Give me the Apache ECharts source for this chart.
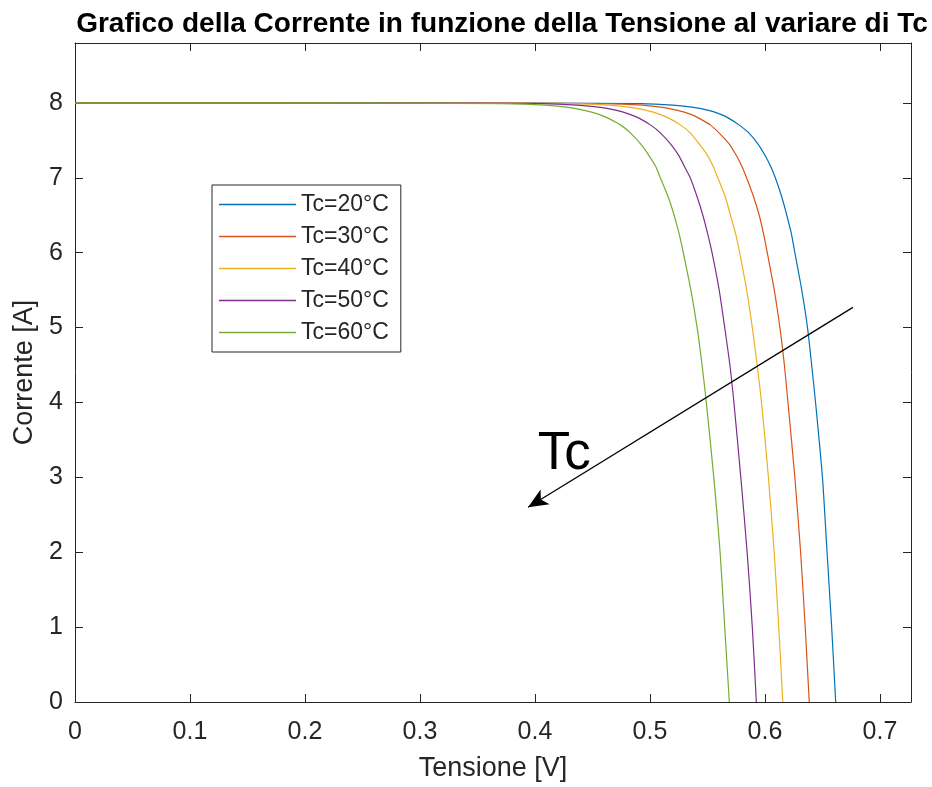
<!DOCTYPE html>
<html>
<head>
<meta charset="utf-8">
<script src="https://cdn.jsdelivr.net/npm/echarts@6/dist/echarts.min.js"></script>
<style>
  html, body { margin: 0; padding: 0; background: #ffffff; }
  #chart { width: 932px; height: 787px; }
</style>
</head>
<body>
<div id="chart"></div>
<script>
// Current levels (A) shared by every curve; the first entry is the short-circuit point at V = 0
const currents = [8, 8, 7.99, 7.97, 7.94, 7.9, 7.85, 7.8, 7.7, 7.6, 7.45, 7.3, 7.15, 7.0, 6.75, 6.5, 6.25, 6.0, 5.5, 5.0, 4.5, 4.0, 3.0, 2.0, 1.0, 0];

// Voltage (V) reached by each curve at the current levels above
const v20 = [0, 0.30, 0.492, 0.520, 0.538, 0.551, 0.561, 0.568, 0.578, 0.586, 0.594, 0.600, 0.605, 0.609, 0.6145, 0.619, 0.623, 0.626, 0.632, 0.637, 0.6406, 0.644, 0.650, 0.654, 0.658, 0.6615];
const v30 = [0, 0.28, 0.464, 0.493, 0.511, 0.524, 0.535, 0.542, 0.553, 0.560, 0.569, 0.575, 0.580, 0.584, 0.590, 0.595, 0.5988, 0.602, 0.6081, 0.613, 0.6169, 0.620, 0.626, 0.631, 0.635, 0.6385];
const v40 = [0, 0.25, 0.435, 0.465, 0.483, 0.497, 0.508, 0.516, 0.527, 0.535, 0.543, 0.550, 0.555, 0.559, 0.5654, 0.570, 0.5745, 0.578, 0.5841, 0.589, 0.5932, 0.597, 0.603, 0.608, 0.612, 0.6155];
const v50 = [0, 0.22, 0.407, 0.437, 0.457, 0.471, 0.482, 0.490, 0.501, 0.509, 0.518, 0.525, 0.530, 0.535, 0.5409, 0.546, 0.5502, 0.554, 0.5602, 0.565, 0.5695, 0.573, 0.579, 0.5845, 0.589, 0.5925];
const v60 = [0, 0.19, 0.377, 0.409, 0.429, 0.443, 0.455, 0.463, 0.475, 0.483, 0.492, 0.499, 0.505, 0.509, 0.5157, 0.521, 0.5254, 0.529, 0.5356, 0.541, 0.5453, 0.549, 0.5555, 0.561, 0.565, 0.569];

const seriesNames = ['Tc=20°C', 'Tc=30°C', 'Tc=40°C', 'Tc=50°C', 'Tc=60°C'];
const seriesVolts = [v20, v30, v40, v50, v60];
const seriesColors = ['#0072BD', '#D95319', '#EDB120', '#7E2F8E', '#77AC30'];

// Axis ticks
const xTicks = [0, 0.1, 0.2, 0.3, 0.4, 0.5, 0.6, 0.7];
const yTicks = [0, 1, 2, 3, 4, 5, 6, 7, 8];

// Temperature-trend arrow (tail, head) and its label, in data units
const arrowTail = [0.6765, 5.27];
const arrowHead = [0.394, 2.60];
const arrowLabelPos = [0.4255, 3.31];

const axisColor = '#262626';
const font = 'Liberation Sans, Arial, Helvetica, sans-serif';

const chart = echarts.init(document.getElementById('chart'), null, { renderer: 'canvas' });

const curveSeries = seriesNames.map((name, k) => ({
  name: name,
  type: 'line',
  xAxisIndex: 0,
  yAxisIndex: 0,
  data: seriesVolts[k].map((v, i) => [v, currents[i]]),
  showSymbol: false,
  symbol: 'none',
  smooth: 0.25,
  lineStyle: { color: seriesColors[k], width: 1.2 },
  itemStyle: { color: seriesColors[k] },
  animation: false,
  z: 3
}));

const boxAxisCommon = {
  axisLine: { show: true, onZero: false, lineStyle: { color: axisColor, width: 1 } },
  axisTick: { show: true, inside: true, length: 8, lineStyle: { color: axisColor, width: 1 } },
  splitLine: { show: false }
};

const option = {
  backgroundColor: '#ffffff',
  animation: false,
  title: {
    text: 'Grafico della Corrente in funzione della Tensione al variare di Tc',
    left: 497,
    textAlign: 'center',
    top: 5,
    textStyle: { fontFamily: font, fontSize: 28, fontWeight: 'bold', color: '#000000' }
  },
  grid: { left: 75, right: 21, top: 43, bottom: 84, containLabel: false },
  legend: {
    data: seriesNames,
    orient: 'vertical',
    left: 212,
    top: 185,
    icon: 'rect',
    itemWidth: 77,
    itemHeight: 1.4,
    itemGap: 9,
    padding: [8, 12, 8, 7],
    borderColor: axisColor,
    borderWidth: 1,
    backgroundColor: '#ffffff',
    textStyle: { fontFamily: font, fontSize: 23, lineHeight: 23, color: '#262626' }
  },
  xAxis: [
    Object.assign({}, boxAxisCommon, {
      type: 'value', position: 'bottom', min: 0, max: 0.727, interval: 0.1,
      name: 'Tensione [V]', nameLocation: 'middle', nameGap: 53,
      nameTextStyle: { fontFamily: font, fontSize: 27, color: axisColor },
      axisLabel: {
        fontFamily: font, fontSize: 25, color: axisColor, margin: 18,
        showMaxLabel: false,
        formatter: v => (xTicks.some(t => Math.abs(t - v) < 1e-9) ? String(+v.toFixed(1)) : '')
      }
    }),
    Object.assign({}, boxAxisCommon, {
      type: 'value', position: 'top', min: 0, max: 0.727, interval: 0.1,
      axisLabel: { show: false }
    })
  ],
  yAxis: [
    Object.assign({}, boxAxisCommon, {
      type: 'value', position: 'left', min: 0, max: 8.8, interval: 1,
      name: 'Corrente [A]', nameLocation: 'middle', nameGap: 34, nameRotate: 90,
      nameTextStyle: { fontFamily: font, fontSize: 27, color: axisColor },
      axisLabel: {
        fontFamily: font, fontSize: 25, color: axisColor, margin: 12,
        showMaxLabel: false,
        formatter: v => (yTicks.indexOf(v) >= 0 ? String(v) : '')
      }
    }),
    Object.assign({}, boxAxisCommon, {
      type: 'value', position: 'right', min: 0, max: 8.8, interval: 1,
      axisLabel: { show: false }
    })
  ],
  series: curveSeries.concat([{
    name: 'trend',
    type: 'line',
    data: [],
    silent: true,
    markLine: {
      silent: true,
      symbol: ['none', 'arrow'],
      symbolSize: [13, 20],
      lineStyle: { color: '#000000', width: 1.3, type: 'solid' },
      label: { show: false },
      data: [[{ coord: arrowTail }, { coord: arrowHead }]]
    },
    markPoint: {
      silent: true,
      symbol: 'circle',
      symbolSize: 0,
      label: {
        show: true, position: 'inside', formatter: 'Tc',
        fontFamily: font, fontSize: 53, color: '#000000'
      },
      data: [{ coord: arrowLabelPos }]
    }
  }])
};

chart.setOption(option);
</script>
</body>
</html>
